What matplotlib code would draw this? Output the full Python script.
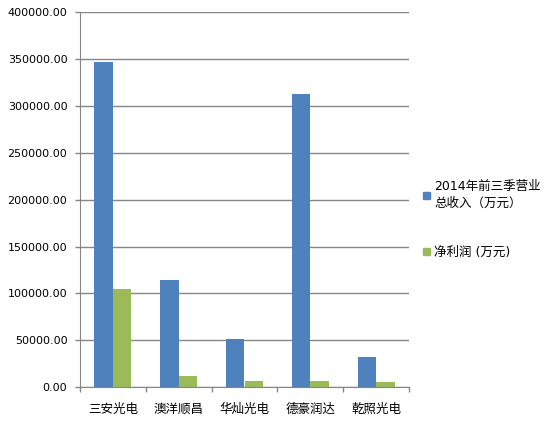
import numpy as np
import matplotlib
matplotlib.use('Agg')
import matplotlib.pyplot as plt
from matplotlib.patches import Patch

plt.rcParams['font.family'] = ['DejaVu Sans', 'Noto Sans CJK SC']

# data
companies = ['三安光电', '澳洋顺昌', '华灿光电', '德豪润达', '乾照光电']
revenue = [347000, 114500, 51800, 313000, 32600]   # 2014 前三季营业总收入 (万元)
profit = [105000, 12500, 7100, 7100, 6000]         # 净利润 (万元)
revenue_label = '2014年前三季营业\n总收入（万元）'
profit_label = '净利润 (万元)'

blue = '#4F81BD'
green = '#9BBB59'
grid_col = '#868686'

fig = plt.figure(figsize=(5.49, 4.26), dpi=100)
ax = fig.add_axes([80/549, 1-387.3/426, 329/549, 375.3/426])

x = np.arange(len(companies))
w = 0.28
ax.bar(x - w/2, revenue, w, color=blue, zorder=3)
ax.bar(x + w/2, profit, w, color=green, zorder=3)

ax.set_xlim(-0.5, len(companies) - 0.5)
ax.set_ylim(0, 400000)
ax.set_yticks(np.arange(0, 400001, 50000))
ax.set_yticklabels(['%.2f' % v for v in np.arange(0, 400001, 50000)], fontsize=8)
ax.yaxis.grid(True, color=grid_col, linewidth=1)
ax.tick_params(axis='y', length=3.6, width=1, color=grid_col, pad=5.5)

ax.set_xticks(x)
ax.set_xticklabels(companies, fontsize=9)
ax.set_xticks(np.arange(-0.5, len(companies)), minor=True)
ax.tick_params(axis='x', which='major', length=0, pad=11)
ax.tick_params(axis='x', which='minor', length=3.6, width=1, color=grid_col)

for s in ['top', 'right']:
    ax.spines[s].set_visible(False)
for s in ['left', 'bottom']:
    ax.spines[s].set_color(grid_col)
    ax.spines[s].set_zorder(4)

handles = [Patch(color=blue), Patch(color=green)]
leg = fig.legend(handles, [revenue_label, profit_label], loc='upper left',
                 bbox_to_anchor=(423/549, 1-180/426), frameon=False, fontsize=9,
                 handlelength=0.55, handleheight=0.55, handletextpad=0.35,
                 labelspacing=2.9, borderaxespad=0, borderpad=0)
for t in leg.get_texts():
    t.set_linespacing(1.35)

plt.savefig('out.png', dpi=100)
